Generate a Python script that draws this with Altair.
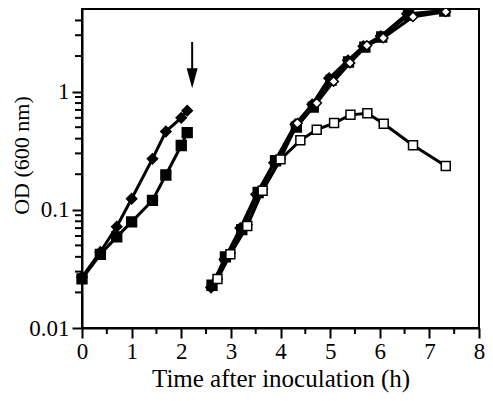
import altair as alt
import pandas as pd

# ---- data ----
# first culture (before transfer, arrow)
left_time = [0.0, 0.37, 0.70, 1.0, 1.42, 1.69, 2.0, 2.12]
left_fd = [0.027, 0.044, 0.072, 0.124, 0.27, 0.46, 0.60, 0.69]
left_fs = [0.026, 0.042, 0.059, 0.079, 0.120, 0.197, 0.35, 0.45]

# second cultures (after transfer)
fd_time = [2.60, 2.87, 3.19, 3.51, 3.87, 4.30, 4.64, 4.98, 5.36, 5.67, 6.02, 6.55, 7.30]
right_fd = [0.022, 0.038, 0.070, 0.135, 0.25, 0.53, 0.78, 1.30, 1.84, 2.42, 2.95, 4.55, 4.85]
fs_time = [2.62, 2.89, 3.22, 3.55, 3.90, 4.32, 4.66, 5.02, 5.37, 5.70, 6.04, 6.58, 7.31]
right_fs = [0.023, 0.040, 0.068, 0.140, 0.26, 0.50, 0.74, 1.25, 1.78, 2.38, 2.90, 4.45, 4.80]
od_time = [2.73, 2.99, 3.33, 3.64, 4.00, 4.34, 4.73, 5.07, 5.40, 5.74, 6.07, 6.67, 7.33]
right_od = [0.026, 0.043, 0.075, 0.150, 0.27, 0.54, 0.80, 1.22, 1.75, 2.46, 2.84, 4.30, 4.74]
os_time = [2.73, 2.99, 3.33, 3.64, 4.00, 4.40, 4.73, 5.08, 5.41, 5.75, 6.08, 6.67, 7.33]
right_os = [0.026, 0.042, 0.073, 0.145, 0.267, 0.387, 0.476, 0.542, 0.636, 0.657, 0.535, 0.352, 0.235]

x_major = [0, 1, 2, 3, 4, 5, 6, 7, 8]
x_minor = [0.5, 1.5, 2.5, 3.5, 4.5, 5.5, 6.5, 7.5]
y_major = [0.01, 0.1, 1]
y_minor = [0.02, 0.03, 0.04, 0.05, 0.06, 0.07, 0.08, 0.09,
           0.2, 0.3, 0.4, 0.5, 0.6, 0.7, 0.8, 0.9, 2, 3, 4]

arrow_time = [2.22]
arrow_top = [2.63]
arrow_bottom = [1.5]
arrow_head = [1.3]

series_names = ["FD", "FS", "OD", "OS"]
shapes = ["diamond", "square", "diamond", "square"]
fills = ["black", "black", "white", "white"]
sizes = [105, 80, 70, 60]
strokes = [1.5, 1.5, 2.5, 2.0]

rows = []
def add(series, group, times, vals):
    for t, v in zip(times, vals):
        rows.append(dict(series=series, line=series + "_" + group, time=t, od=v))

add("FD", "a", left_time, left_fd)
add("FS", "a", left_time, left_fs)
add("FD", "b", fd_time, right_fd)
add("FS", "b", fs_time, right_fs)
add("OD", "b", od_time, right_od)
add("OS", "b", os_time, right_os)
df = pd.DataFrame(rows)

FONT = "Liberation Serif"
XT = "Time after inoculation (h)"
YT = "OD (600 nm)"
xscale = alt.Scale(domain=[0, 8], nice=False, zero=False)
yscale = alt.Scale(type="log", domain=[0.01, 5], nice=False)

def xaxis():
    return alt.Axis(values=x_major, tickSize=10, labelPadding=2, labelFontSize=23,
                    titleFontSize=25, titlePadding=3, labelFlush=False, labelOverlap=False,
                    title=XT)

def yaxis():
    return alt.Axis(values=y_major, format="~g", tickSize=10, labelPadding=3, labelFontSize=23,
                    titleFontSize=22, labelFlush=False, labelOverlap=False,
                    titleX=-49, titleY=146, titleBaseline="bottom", titleAngle=270,
                    title=YT)

def X(field):
    return alt.X(field, type="quantitative", scale=xscale, axis=xaxis(), title=XT)

def Y(field):
    return alt.Y(field, type="quantitative", scale=yscale, axis=yaxis(), title=YT)

lines = alt.Chart(df).mark_line(color="black", strokeWidth=3).encode(
    x=X("time"), y=Y("od"), detail="line:N"
)

points = alt.Chart(df).mark_point(stroke="black", opacity=1).encode(
    x=X("time"), y=Y("od"),
    shape=alt.Shape("series:N", scale=alt.Scale(domain=series_names, range=shapes), legend=None),
    fill=alt.Fill("series:N", scale=alt.Scale(domain=series_names, range=fills), legend=None),
    size=alt.Size("series:N", scale=alt.Scale(domain=series_names, range=sizes), legend=None),
    strokeWidth=alt.StrokeWidth("series:N", scale=alt.Scale(domain=series_names, range=strokes), legend=None),
)

ymin_df = pd.DataFrame({"v": y_minor})
ymin = alt.Chart(ymin_df).mark_rule(color="black", strokeWidth=2).encode(
    y=Y("v"),
    x=alt.value(-7), x2=alt.value(0),
)
xmin_df = pd.DataFrame({"v": x_minor})
xmin = alt.Chart(xmin_df).mark_rule(color="black", strokeWidth=2).encode(
    x=X("v"),
    y=alt.value(319), y2=alt.value(325),
)

arrow_df = pd.DataFrame({"t": arrow_time, "top": arrow_top, "bot": arrow_bottom, "head": arrow_head})
shaft = alt.Chart(arrow_df).mark_rule(color="black", strokeWidth=2).encode(
    x=X("t"), y=Y("top"), y2="bot:Q",
)
head = alt.Chart(arrow_df).mark_point(
    shape="M-0.55,-1L0.55,-1L0,1Z", filled=True, color="black", size=400, opacity=1
).encode(
    x=X("t"), y=Y("head"),
)

chart = alt.layer(lines, points, ymin, xmin, shaft, head).properties(
    width=397, height=319,
    autosize=alt.AutoSizeParams(type="none"),
    padding={"left": 74, "top": 1, "right": 6, "bottom": 65},
).configure_view(
    stroke="black", strokeWidth=2
).configure_axis(
    grid=False, domainColor="black", domainWidth=2, tickColor="black", tickWidth=2,
    labelColor="black", titleColor="black", labelFont=FONT, titleFont=FONT,
    titleFontWeight="normal",
)

chart.save("out.html", embed_options={"renderer": "svg", "actions": False})
